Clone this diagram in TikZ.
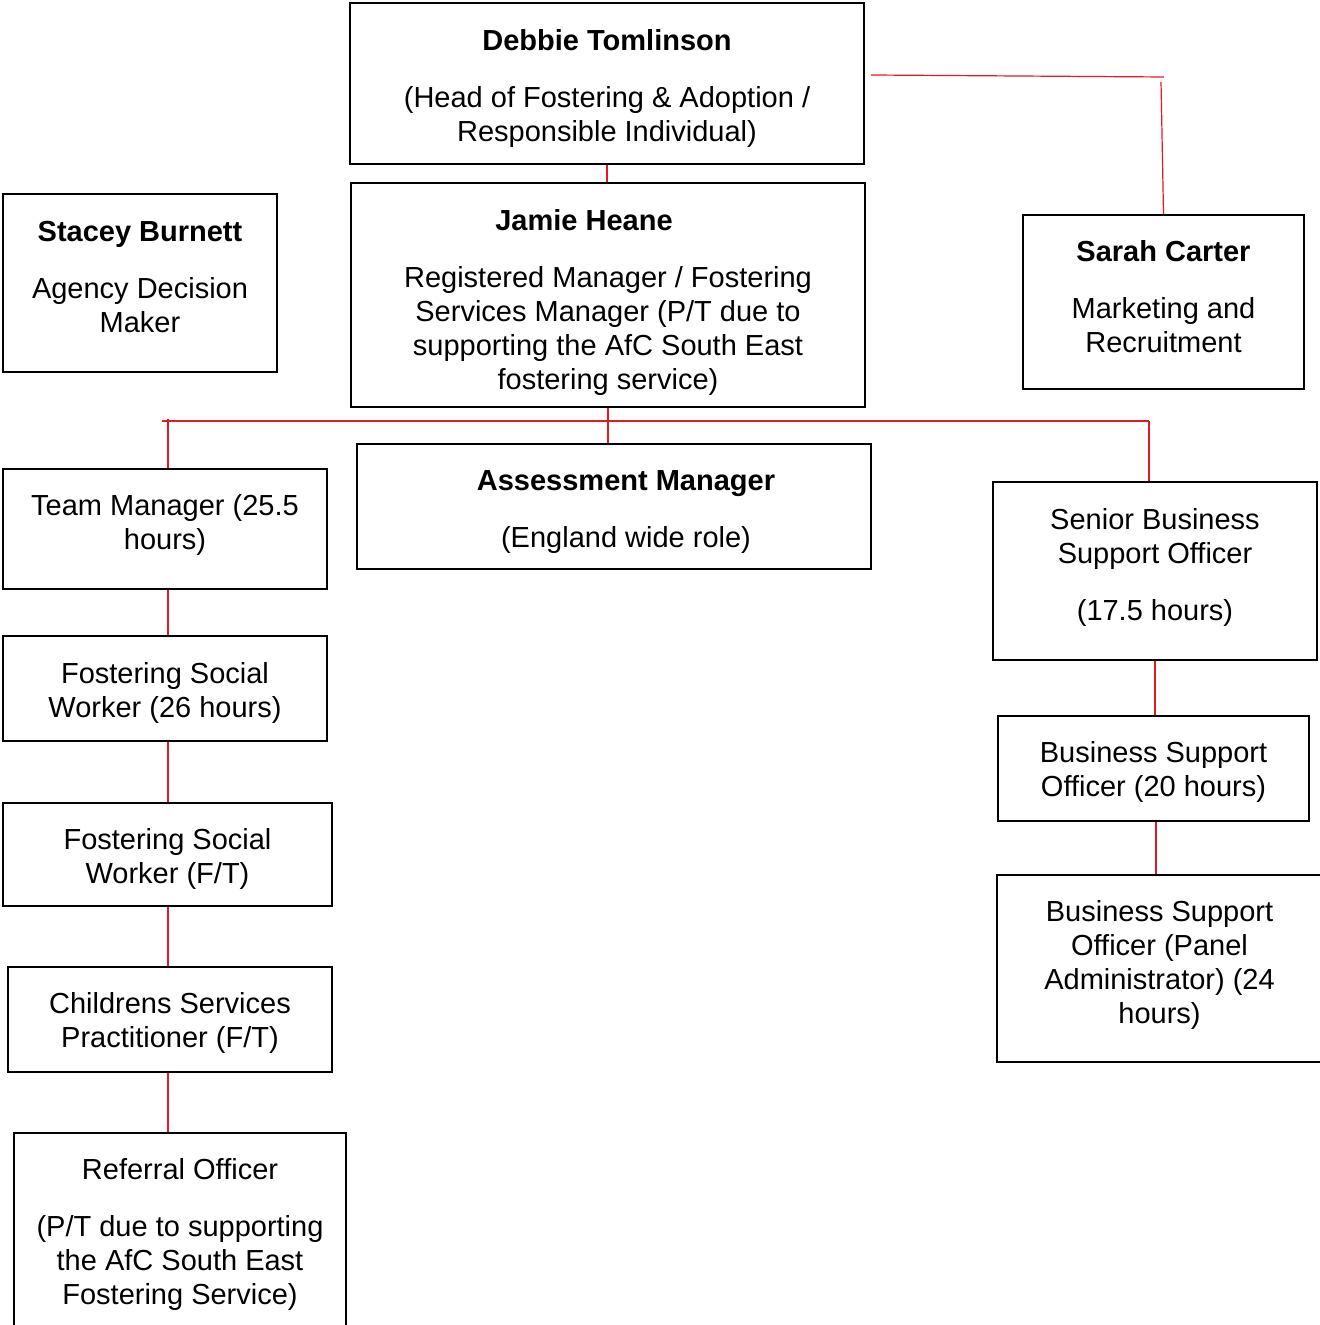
\documentclass[tikz,border=0pt]{standalone}
\usepackage{fontspec}
\setmainfont{Liberation Sans}
\definecolor{linkred}{RGB}{226,24,36}
\tikzset{
  post/.style={draw=black, line width=0.8pt, inner sep=0pt},
  posttext/.style={align=center, inner sep=0pt, font=\fontsize{14.5}{17}\selectfont},
  link/.style={draw=linkred, line width=0.6pt},
}
\begin{document}
\begin{tikzpicture}[x=0.5pt,y=-0.5pt]
    \useasboundingbox (0,0) rectangle (1319,1325);
    %% Head and manager
    \node[post, minimum width=257pt, minimum height=80.5pt,
        label={[posttext, yshift=-2.5pt]center:{\textbf{Debbie Tomlinson}\\[11.5pt](Head of Fostering \& Adoption /\\Responsible Individual)}}]
        (debbie) at (607,83.5) {};
    \node[post, minimum width=257pt, minimum height=112pt,
        label={[posttext, yshift=-4pt]center:{\hspace*{-24pt}\textbf{Jamie Heane}\\[11.5pt]Registered Manager / Fostering\\Services Manager (P/T due to\\supporting the AfC South East\\fostering service)}}]
        (jamie) at (608,295) {};
    \node[post, minimum width=137pt, minimum height=89pt,
        label={[posttext, yshift=3pt]center:{\textbf{Stacey Burnett}\\[11.5pt]Agency Decision\\Maker}}]
        (stacey) at (140,283) {};
    \node[post, minimum width=140.5pt, minimum height=87pt,
        label={[posttext, yshift=2.5pt]center:{\textbf{Sarah Carter}\\[11.5pt]Marketing and\\Recruitment}}]
        (sarah) at (1163.5,302) {};
    \node[post, minimum width=257pt, minimum height=62.5pt,
        label={[posttext, yshift=-3pt, xshift=6pt]center:{\textbf{Assessment Manager}\\[11.5pt](England wide role)}}]
        (assess) at (614,506.5) {};
    %% Left column
    \node[post, minimum width=162pt, minimum height=60pt,
        label={[posttext, yshift=2pt]center:{Team Manager (25.5\\hours)}}]
        (team) at (165,529) {};
    \node[post, minimum width=162pt, minimum height=52.5pt,
        label={[posttext, yshift=-2pt]center:{Fostering Social\\Worker (26 hours)}}]
        (fsw) at (165,688.5) {};
    \node[post, minimum width=164.5pt, minimum height=51.5pt,
        label={[posttext, yshift=-2pt]center:{Fostering Social\\Worker (F/T)}}]
        (fswft) at (167.5,854.5) {};
    \node[post, minimum width=162pt, minimum height=52.5pt,
        label={[posttext, yshift=-1.5pt]center:{Childrens Services\\Practitioner (F/T)}}]
        (csp) at (170,1019.5) {};
    \node[post, minimum width=166pt, minimum height=98pt,
        label={[posttext, yshift=-1.5pt]center:{Referral Officer\\[11.5pt](P/T due to supporting\\the AfC South East\\Fostering Service)}}]
        (referral) at (180,1231) {};
    %% Right column
    \node[post, minimum width=162pt, minimum height=89pt,
        label={[posttext, yshift=2pt]center:{Senior Business\\Support Officer\\[11.5pt](17.5 hours)}}]
        (senior) at (1155,571) {};
    \node[post, minimum width=155.5pt, minimum height=52.5pt,
        label={[posttext, yshift=-1.5pt]center:{Business Support\\Officer (20 hours)}}]
        (bsa) at (1153.5,768.5) {};
    \node[post, minimum width=162.5pt, minimum height=93.5pt,
        label={[posttext, yshift=2pt]center:{Business Support\\Officer (Panel\\Administrator) (24\\hours)}}]
        (panel) at (1159.5,968.5) {};
    %% Red links
    \coordinate (hdstart) at (871,75);
    \coordinate (hdend) at (1164,77);
    \coordinate (sarahhook) at (1161,82);
    \coordinate (busL) at (162,421);
    \coordinate (busR) at (1149,421);
    \coordinate (spine) at (168,419);
    \coordinate (rspine) at (1156,0);
    \draw[link] (debbie.south) -- (debbie.south |- jamie.north);
    \draw[link] (hdstart) -- (hdend);
    \draw[link] (sarahhook) -- (sarah.north);
    \draw[link] (busL) -- (busR);
    \draw[link] (jamie.south) -- (jamie.south |- assess.north);
    \draw[link] (spine) -- (spine |- team.north);
    \draw[link] (busR) -- (busR |- senior.north);
    \draw[link] (team.south -| spine) -- (fsw.north -| spine);
    \draw[link] (fsw.south -| spine) -- (fswft.north -| spine);
    \draw[link] (fswft.south -| spine) -- (csp.north -| spine);
    \draw[link] (csp.south -| spine) -- (referral.north -| spine);
    \draw[link] (senior.south) -- (senior.south |- bsa.north);
    \draw[link] (bsa.south -| rspine) -- (panel.north -| rspine);
\end{tikzpicture}
\end{document}
